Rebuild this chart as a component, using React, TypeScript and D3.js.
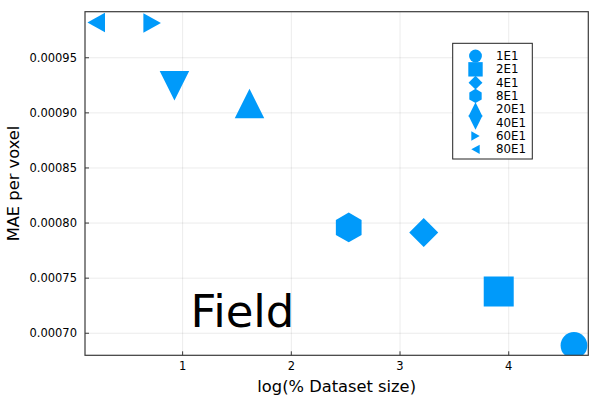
import React from "react";
import * as d3 from "d3";

const labels = ["1E1", "2E1", "4E1", "8E1", "20E1", "40E1", "60E1", "80E1"];
const shapes = ["circle", "square", "diamond", "hexagon", "utriangle", "dtriangle", "rtriangle", "ltriangle"];
const xValues = [4.6, 3.908, 3.218, 2.528, 1.615, 0.925, 0.72, 0.205];
const yValues = [0.000689, 0.000738, 0.0007915, 0.000796, 0.0009085, 0.0009245, 0.0009815, 0.000982];
const markerSizes = [26.7, 30, 29, 29.7, 29.5, 29.5, 19.5, 19.5];
const xTicks = [1, 2, 3, 4];
const yTicks = [0.0007, 0.00075, 0.0008, 0.00085, 0.0009, 0.00095];

const W = 600;
const H = 400;
const left = 85;
const right = 588.3;
const top = 11.7;
const bottom = 355.3;
const color = "#009AFA";
const font = "DejaVu Sans, sans-serif";

function markerPath(shape: string, s: number): string {
  const p = d3.path();
  const h = s / 2;
  if (shape === "circle") {
    p.arc(0, 0, h, 0, 2 * Math.PI);
  } else if (shape === "square") {
    p.rect(-h, -h, s, s);
  } else if (shape === "diamond") {
    p.moveTo(0, -h); p.lineTo(h, 0); p.lineTo(0, h); p.lineTo(-h, 0);
  } else if (shape === "hexagon") {
    for (let i = 0; i < 6; i++) {
      const a = -Math.PI / 2 + (i * Math.PI) / 3;
      const px = h * Math.cos(a), py = h * Math.sin(a);
      if (i === 0) p.moveTo(px, py); else p.lineTo(px, py);
    }
  } else if (shape === "utriangle") {
    p.moveTo(0, -h); p.lineTo(h, h); p.lineTo(-h, h);
  } else if (shape === "dtriangle") {
    p.moveTo(0, h); p.lineTo(h, -h); p.lineTo(-h, -h);
  } else if (shape === "rtriangle") {
    const d = h * 0.9;
    p.moveTo(d, 0); p.lineTo(-d, -h); p.lineTo(-d, h);
  } else if (shape === "ltriangle") {
    const d = h * 0.9;
    p.moveTo(-d, 0); p.lineTo(d, -h); p.lineTo(d, h);
  }
  p.closePath();
  return p.toString();
}

export default function App() {
  const x = d3.scaleLinear().domain([0.102, 4.732]).range([left, right]);
  const y = d3.scaleLinear().domain([0.00068, 0.0009918]).range([bottom, top]);
  const fmtY = (v: number) => v.toFixed(5);

  const legX = 452.7, legY = 43.3, legW = 79.6, legH = 115.7;
  const rowY0 = 56, rowStep = 13.33;

  return (
    <svg width={W} height={H} style={{ position: "absolute", left: 0, top: 0, background: "#fff" }} fontFamily={font}>
      <defs>
        <clipPath id="plotclip">
          <rect x={left} y={top} width={right - left} height={bottom - top} />
        </clipPath>
      </defs>
      <rect x={0} y={0} width={W} height={H} fill="#fff" />
      {/* grid */}
      {xTicks.map((t) => (
        <line key={"gx" + t} x1={x(t)} x2={x(t)} y1={top} y2={bottom} stroke="#000" strokeOpacity={0.1} strokeWidth={0.8} />
      ))}
      {yTicks.map((t) => (
        <line key={"gy" + t} x1={left} x2={right} y1={y(t)} y2={y(t)} stroke="#000" strokeOpacity={0.1} strokeWidth={0.8} />
      ))}
      {/* markers */}
      <g clipPath="url(#plotclip)">
        {xValues.map((xv, i) => (
          <path key={"m" + i} d={markerPath(shapes[i], markerSizes[i])} transform={`translate(${x(xv)},${y(yValues[i])})`} fill={color} />
        ))}
      </g>
      {/* frame */}
      <rect x={left} y={top} width={right - left} height={bottom - top} fill="none" stroke="#3a3a3a" strokeWidth={1.2} />
      {/* ticks */}
      {xTicks.map((t) => (
        <g key={"tx" + t}>
          <line x1={x(t)} x2={x(t)} y1={bottom} y2={bottom - 4} stroke="#3a3a3a" strokeWidth={1} />
          <text x={x(t)} y={366.3} textAnchor="middle" dominantBaseline="central" fontSize={11.5} fill="#000">{t}</text>
        </g>
      ))}
      {yTicks.map((t) => (
        <g key={"ty" + t}>
          <line x1={left} x2={left + 4} y1={y(t)} y2={y(t)} stroke="#3a3a3a" strokeWidth={1} />
          <text x={77} y={y(t)} textAnchor="end" dominantBaseline="central" fontSize={11.5} fill="#000">{fmtY(t)}</text>
        </g>
      ))}
      {/* axis labels */}
      <text x={(left + right) / 2} y={391.5} textAnchor="middle" fontSize={16.3} fill="#000">log(% Dataset size)</text>
      <text transform={`translate(18.5,${(top + bottom) / 2}) rotate(-90)`} textAnchor="middle" fontSize={16.3} fill="#000">MAE per voxel</text>
      {/* annotation */}
      <text x={242.5} y={327} textAnchor="middle" fontSize={45} fill="#000">Field</text>
      {/* legend */}
      <rect x={legX} y={legY} width={legW} height={legH} fill="#fff" stroke="#222" strokeWidth={1} />
      {labels.map((lab, i) => (
        <g key={"l" + i} transform={`translate(0,${rowY0 + i * rowStep})`}>
          <path d={markerPath(shapes[i], markerSizes[i] * 0.48)} transform="translate(475.5,0)" fill={color} />
          <text x={496} y={0} dominantBaseline="central" fontSize={11.8} fill="#000">{lab}</text>
        </g>
      ))}
    </svg>
  );
}
